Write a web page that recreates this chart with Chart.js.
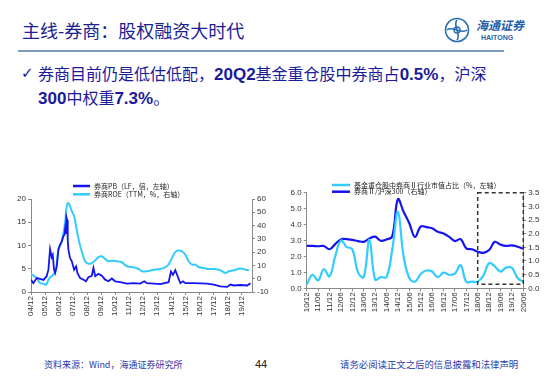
<!DOCTYPE html>
<html>
<head>
<meta charset="utf-8">
<script src="https://cdn.jsdelivr.net/npm/chart.js@4.4.1/dist/chart.umd.min.js"></script>
<style>
  body { margin: 0; width: 550px; height: 379px; background: #fff; position: relative; overflow: hidden;
         font-family: "Noto Sans CJK SC", sans-serif; }
  .abs { position: absolute; white-space: nowrap; line-height: 1; }
  .num { font-family: "Liberation Sans", Arial, sans-serif; font-weight: bold; font-size: 17px; }
  canvas { position: absolute; }
</style>
</head>
<body>

<div class="abs" style="left:22px;top:21px;font-size:18px;color:#1a2290;">主线-券商：股权融资大时代</div>
<div class="abs" style="left:18px;top:50px;width:486px;height:2px;background:#7d9cc4;"></div>

<svg class="abs" style="left:444px;top:17px" width="26" height="26" viewBox="0 0 26 26">
  <circle cx="13" cy="13" r="11.5" fill="none" stroke="#2a6db0" stroke-width="1.6"/>
  <path d="M13 3 C8 8 18 18 13 23 M3 13 C8 8 18 18 23 13" fill="none" stroke="#2a6db0" stroke-width="1.6"/>
  <circle cx="13" cy="13" r="3" fill="none" stroke="#2a6db0" stroke-width="1.4"/>
</svg>
<div class="abs" style="left:476px;top:19px;font-size:12px;font-style:italic;font-weight:bold;color:#1f5fa8;">海通证券</div>
<div class="abs" style="left:481px;top:34px;font-size:7px;font-weight:bold;font-family:'Liberation Sans',Arial;color:#1f5fa8;">HAITONG</div>

<div class="abs" style="left:21px;top:66px;font-size:15px;color:#1a1a8a;font-family:'DejaVu Sans';">✓</div>
<div class="abs" style="left:38px;top:65px;font-size:16px;color:#1a1a9a;">券商目前仍是低估低配，<span class="num">20Q2</span>基金重仓股中券商占<span class="num">0.5%</span>，沪深</div>
<div class="abs" style="left:38px;top:89px;font-size:16px;color:#1a1a9a;"><span class="num">300</span>中权重<span class="num">7.3%</span>。</div>

<canvas id="leftChart" width="275" height="160" style="left:0;top:170px"></canvas>
<canvas id="rightChart" width="275" height="160" style="left:275px;top:170px"></canvas>

<div class="abs" style="left:44px;top:360px;font-size:9px;color:#2a3aa8;">资料来源：Wind，海通证券研究所</div>
<div class="abs" style="left:255px;top:359px;font-size:11px;color:#222;font-family:'Liberation Sans',Arial;">44</div>
<div class="abs" style="left:340px;top:360px;font-size:9.4px;color:#2a3aa8;">请务必阅读正文之后的信息披露和法律声明</div>

<script>
// 左图：月份数（自 2004/12 起）
const pbMonths = [0, 2, 4.9, 7.7, 10.6, 13.4, 14.9, 16.3, 17.7, 18.6, 19.7, 20.6, 22, 23.4, 24.9, 26.3, 27.7, 28.6,
  29.1, 29.7, 30.3, 30.9, 31.4, 32, 33.4, 34.9, 36.9, 38.6, 39.7, 42, 44.9, 47.1, 49.1, 52, 53.4, 54.9, 57.7, 60.6,
  63.4, 66.3, 69.1, 72, 76.3, 82, 87.7, 93.4, 96.9, 99.1, 104.9, 110.6, 117.7, 119.7, 121.4, 123.4, 124.9, 127.7,
  130, 132, 139.1, 150.6, 156.3, 162, 167.7, 170.6, 173.4, 179.1, 184.9, 187.7];
const pbValues = [2.65, 1.9, 3.0, 2.8, 2.6, 3.4, 4.8, 9.2, 7.5, 8.0, 4.8, 4.1, 5.5, 9.1, 10.2, 10.9, 12, 12.3,
  13.4, 12.5, 16.1, 15.5, 11.3, 9.1, 7.3, 6.6, 4.8, 5.5, 4.1, 3.0, 2.65, 2.3, 3.2, 3.5, 5.2, 3.4, 3.9, 3.5,
  2.65, 2.3, 2.9, 2.3, 2.1, 1.8, 1.9, 1.8, 2.3, 1.9, 1.8, 1.7, 2.1, 4.4, 3.7, 4.7, 3.7, 1.9,
  2.3, 1.9, 1.9, 1.8, 1.6, 1.2, 1.1, 1.6, 1.4, 1.5, 1.4, 1.9];

const roeMonths = [0, 2, 4.9, 7.7, 10.6, 12.9, 15.7, 19.1, 21.4, 23.4, 24.9, 26.3, 27.7, 29.1, 30.6, 32, 33.4, 34.9,
  36.9, 39.1, 41.1, 43.4, 46.3, 49.1, 52, 54.9, 57.7, 60.6, 63.4, 66.3, 69.1, 73.4, 77.7, 82, 87.7, 92, 94.9, 99.1,
  104.9, 110.6, 116.3, 119.1, 122, 124.9, 129.1, 132, 134.9, 137.7, 140.6, 143.4, 147.7, 152, 157.7, 162, 166.3,
  169.1, 173.4, 179.1, 183.4, 186.3];
const roeValues = [3.6, 2.3, 0.5, -3.3, -3.7, -4.5, 0.5, 3.0, 6.8, 21.9, 25, 28, 34.4, 41.9, 54.5, 57, 54.5, 50.8,
  47, 36.9, 28.1, 20.6, 13.1, 11.3, 11.8, 13.8, 16.3, 16.9, 14.8, 13.1, 13.6, 13.1, 12.4, 9.4, 8.6, 7.3, 5.6, 5.6,
  6.8, 7.3, 9.4, 13.1, 18.1, 21.1, 20.6, 18.1, 13.1, 10.6, 10.6, 8.8, 8.1, 7.3, 7.3, 6.3, 4.3,
  5.6, 6.3, 7.6, 6.8, 6.3];

const leftTickMonths = [0, 12, 24, 36, 48, 60, 72, 84, 96, 108, 120, 132, 144, 156, 168, 180];
const leftTickLabels = ['04/12', '05/12', '06/12', '07/12', '08/12', '09/12', '10/12', '11/12', '12/12', '13/12',
  '14/12', '15/12', '16/12', '17/12', '18/12', '19/12'];

// 右图：季度
const quarters = ['10/12', '11/03', '11/06', '11/09', '11/12', '12/03', '12/06', '12/09', '12/12', '13/03', '13/06',
  '13/09', '13/12', '14/03', '14/06', '14/09', '14/12', '15/03', '15/06', '15/09', '15/12', '16/03', '16/06', '16/09',
  '16/12', '17/03', '17/06', '17/09', '17/12', '18/03', '18/06', '18/09', '18/12', '19/03', '19/06', '19/09', '19/12',
  '20/03', '20/06'];
const fundShare = [0.22, 0.85, 0.5, 1.2, 0.75, 2.0, 3.0, 2.6, 2.45, 1.0, 0.7, 3.05, 0.55, 0.7, 0.7, 2.4, 4.8, 2.0,
  0.65, 0.42, 0.9, 1.12, 1.05, 0.7, 0.98, 0.85, 0.92, 1.45, 0.4, 0.42, 0.42, 0.8, 1.58, 1.38, 1.05, 1.3, 1.28, 0.65, 0.42];
const brokerVsHs300 = [1.55, 1.55, 1.54, 1.55, 1.43, 1.62, 1.79, 1.8, 1.77, 1.73, 1.70, 1.82, 1.89, 1.74, 1.79, 1.9,
  3.26, 2.8, 2.38, 1.88, 2.26, 2.24, 2.2, 2.07, 2.01, 1.88, 1.73, 1.8, 1.46, 1.43, 1.34, 1.3, 1.4, 1.7, 1.6, 1.55,
  1.57, 1.52, 1.45];
const boxFrom = '18/06', boxTo = '20/06';
const boxRight = [0.15, 3.5];

const DARK = '#1414ee';
const LIGHT = '#33ccff';
const AXIS = '#8a8a8a';
const tickFont = { family: 'Liberation Sans', size: 8 };

// 简单图例，竖排
const miniLegend = {
  id: 'miniLegend',
  afterDraw(chart, args, opts) {
    const ctx = chart.ctx;
    ctx.save();
    ctx.font = '7px "Noto Sans CJK SC"';
    ctx.textBaseline = 'middle';
    chart.data.datasets.forEach((ds, i) => {
      const y = opts.y + i * opts.gap;
      ctx.strokeStyle = ds.borderColor;
      ctx.lineWidth = 2.5;
      ctx.beginPath();
      ctx.moveTo(opts.x, y);
      ctx.lineTo(opts.x + opts.len, y);
      ctx.stroke();
      ctx.fillStyle = '#222';
      ctx.fillText(ds.label, opts.x + opts.len + 4, y);
    });
    ctx.restore();
  }
};

const dashBox = {
  id: 'dashBox',
  afterDatasetsDraw(chart) {
    const xs = chart.scales.x, ys = chart.scales.y1;
    const x0 = xs.getPixelForValue(quarters.indexOf(boxFrom));
    const x1 = xs.getPixelForValue(quarters.indexOf(boxTo));
    const y0 = ys.getPixelForValue(boxRight[1]);
    const y1 = ys.getPixelForValue(boxRight[0]);
    const ctx = chart.ctx;
    ctx.save();
    ctx.strokeStyle = '#333';
    ctx.lineWidth = 1.5;
    ctx.setLineDash([4, 3]);
    ctx.strokeRect(x0, y0, x1 - x0, y1 - y0);
    ctx.restore();
  }
};

function axisGrid() {
  return { drawOnChartArea: false, tickLength: 3, color: AXIS };
}

new Chart(document.getElementById('leftChart'), {
  type: 'line',
  data: {
    datasets: [{
      label: '券商PB（LF，倍，左轴）',
      data: pbMonths.map((m, i) => ({ x: m, y: pbValues[i] })),
      borderColor: DARK,
      borderWidth: 1.8,
      pointRadius: 0,
      tension: 0,
      yAxisID: 'y'
    }, {
      label: '券商ROE（TTM，%，右轴）',
      data: roeMonths.map((m, i) => ({ x: m, y: roeValues[i] })),
      borderColor: LIGHT,
      borderWidth: 2,
      pointRadius: 0,
      tension: 0.4,
      yAxisID: 'y1'
    }]
  },
  options: {
    responsive: false,
    animation: false,
    layout: { padding: { top: 29, left: 0, right: 0, bottom: 0 } },
    plugins: {
      legend: { display: false },
      tooltip: { enabled: false },
      miniLegend: { x: 73, y: 16, gap: 8.3, len: 17 }
    },
    scales: {
      x: {
        type: 'linear',
        min: 0,
        max: 189,
        afterBuildTicks: s => { s.ticks = leftTickMonths.map(v => ({ value: v })); },
        afterFit: s => { s.height = 38; },
        grid: axisGrid(),
        border: { color: AXIS },
        ticks: {
          autoSkip: false,
          minRotation: 90,
          maxRotation: 90,
          padding: 1,
          font: tickFont,
          color: '#333',
          callback: v => leftTickLabels[leftTickMonths.indexOf(v)]
        }
      },
      y: {
        position: 'left',
        min: 0,
        max: 20,
        afterFit: s => { s.width = 31; },
        grid: axisGrid(),
        border: { color: AXIS },
        ticks: { stepSize: 5, padding: 2, font: tickFont, color: '#333' }
      },
      y1: {
        position: 'right',
        min: -10,
        max: 60,
        afterFit: s => { s.width = 23; },
        grid: axisGrid(),
        border: { color: AXIS },
        ticks: { stepSize: 10, padding: 2, font: tickFont, color: '#333' }
      }
    }
  },
  plugins: [miniLegend]
});

new Chart(document.getElementById('rightChart'), {
  type: 'line',
  data: {
    labels: quarters,
    datasets: [{
      label: '基金重仓股中券商Ⅱ行业市值占比（%，左轴）',
      data: fundShare,
      borderColor: LIGHT,
      borderWidth: 2.2,
      pointRadius: 0,
      tension: 0.4,
      yAxisID: 'y'
    }, {
      label: '券商Ⅱ/沪深300（右轴）',
      data: brokerVsHs300,
      borderColor: DARK,
      borderWidth: 2.2,
      pointRadius: 0,
      tension: 0.4,
      yAxisID: 'y1'
    }]
  },
  options: {
    responsive: false,
    animation: false,
    layout: { padding: { top: 22.7, left: 0, right: 0, bottom: 0 } },
    plugins: {
      legend: { display: false },
      tooltip: { enabled: false },
      miniLegend: { x: 57, y: 15, gap: 6.7, len: 18 }
    },
    scales: {
      x: {
        offset: false,
        afterBuildTicks: s => { s.ticks = s.ticks.filter(t => t.value % 2 === 0); },
        afterFit: s => { s.height = 41.7; },
        grid: { ...axisGrid(), offset: false },
        border: { color: AXIS },
        ticks: {
          autoSkip: false,
          minRotation: 90,
          maxRotation: 90,
          padding: 1,
          font: tickFont,
          color: '#333'
        }
      },
      y: {
        position: 'left',
        min: 0,
        max: 6,
        afterFit: s => { s.width = 31.7; },
        grid: axisGrid(),
        border: { color: AXIS },
        ticks: { stepSize: 1, padding: 2, font: tickFont, color: '#333', callback: v => v.toFixed(1) }
      },
      y1: {
        position: 'right',
        min: 0,
        max: 3.5,
        afterFit: s => { s.width = 26.7; },
        grid: axisGrid(),
        border: { color: AXIS },
        ticks: { stepSize: 0.5, padding: 2, font: tickFont, color: '#333', callback: v => v.toFixed(1) }
      }
    }
  },
  plugins: [miniLegend, dashBox]
});
</script>
</body>
</html>
